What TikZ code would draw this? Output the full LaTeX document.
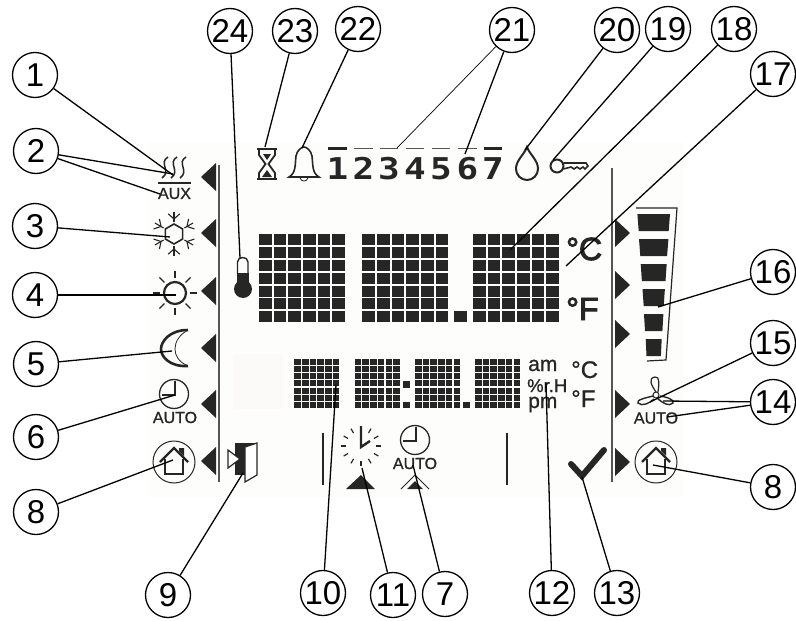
\documentclass[tikz,border=0pt]{standalone}
\usepackage{graphicx}
\usepackage{fontspec}
\setmainfont{Liberation Sans}
\newfontfamily\lcdfont{DejaVu Sans Mono}
\newfontfamily\lcdreg{Liberation Sans}[FakeBold=1]
\newfontfamily\lcdbig{Liberation Sans}[FakeBold=3]
\usepackage{tikz}
\usetikzlibrary{calc}
\definecolor{lcd}{HTML}{262626}
\definecolor{rule}{HTML}{555555}
\definecolor{ghost}{HTML}{FBFAF8}
\newcommand{\dotblock}[6]{
	\foreach \i in {0,...,5}{
		\foreach \j in {0,...,6}{
			\fill[lcd] ({#1+\i*#5},{#2+\j*#6}) rectangle +(#3,#4);
		}
	}
}
\newcommand{\homeicon}[2]{
	\begin{scope}[shift={(#1,#2)}]
		\draw[line width=1pt,lcd] (0,0) circle (21);
		\draw[line width=2.4pt,lcd] (-14,0) -- (0,-14) -- (14,0);
		\draw[line width=2.4pt,lcd] (-9,-3) -- (-9,12) -- (9,12) -- (9,-3);
		\fill[lcd] (5,-14) -- (10,-14) -- (10,-6) -- (5,-11) -- cycle;
	\end{scope}
}
\newcommand{\clockicon}[2]{
	\begin{scope}[shift={(#1,#2)}]
		\draw[line width=1.3pt,lcd] (0,0) circle (14.5);
		\draw[line width=2.6pt,lcd] (1,-13) -- (1,1) -- (-12,1);
	\end{scope}
}
\begin{document}
\begin{tikzpicture}[x=1pt,y=-1pt, line cap=butt,
	callout/.style={circle, draw, line width=1.3pt, inner sep=0pt, minimum size=45pt, font=\fontsize{33}{33}\selectfont},
	leader/.style={line width=1.3pt},
	thinleader/.style={line width=0.7pt},
	autotext/.style={inner sep=0pt, text=lcd, font=\lcdreg\fontsize{16}{16}\selectfont},
	lcdtext/.style={inner sep=0pt, anchor=base west, text=lcd, font=\lcdreg\fontsize{#1}{#1}\selectfont},
	bigunit/.style={inner sep=0pt, anchor=base west, text=lcd, font=\lcdbig\fontsize{32}{32}\selectfont},
	daydigit/.style={inner sep=0pt, anchor=base, text=lcd, font=\lcdfont\bfseries\fontsize{30}{30}\selectfont},
	softkey/.style={fill=lcd, draw=none}]
	\useasboundingbox (0,0) rectangle (796,621);
	\fill[white] (0,0) rectangle (796,621);
	\fill[ghost!40] (148,142) rectangle (683,497);
	\fill[ghost] (233,354) rectangle (283,409);

	\draw[rule,line width=2pt] (218.5,165) -- (218.5,482);
	\draw[rule,line width=1.6pt] (612,168) -- (612,482);
	\draw[lcd,line width=1.6pt] (322.7,433) -- (322.7,485);
	\draw[lcd,line width=1.6pt] (507,433) -- (507,485);
	\foreach \y in {177,233,291,348,404,461}{
		\fill[softkey] (201,\y) -- (216,\y-14) -- (216,\y+14) -- cycle;
	}
	\foreach \y in {233,285,334,404,462}{
		\fill[softkey] (630,\y) -- (615,\y-14) -- (615,\y+14) -- cycle;
	}

	\dotblock{259}{234.3}{12.7}{11}{14.66}{12.8}
	\dotblock{362.3}{234.3}{12.7}{11}{14.66}{12.8}
	\dotblock{473}{234.3}{12.7}{11}{14.66}{12.8}
	\fill[lcd] (454,311.3) rectangle (467.3,322);
	\dotblock{294.3}{359}{6.5}{5.9}{7.7}{7.15}
	\dotblock{354.7}{359}{6.5}{5.9}{7.7}{7.15}
	\dotblock{415}{359}{6.5}{5.9}{7.7}{7.15}
	\dotblock{475}{359}{6.5}{5.9}{7.7}{7.15}
	\fill[lcd] (403.3,381) rectangle (410,387.7);
	\fill[lcd] (403.3,402) rectangle (410,408);
	\fill[lcd] (463.3,402) rectangle (470,408);

	\draw[lcd,line width=1.2pt] (636,208) -- (677,208) -- (666,360) -- (647,361);
	\foreach \y/\a/\b in {214/16.3/15,239/14.7/13.4,264/13/11.8,289/11.2/10,314/9.7/8.7,339/8/7.2}{
		\fill[lcd] (653.7-\a,\y) -- (653.7+\a,\y) -- (653.7+\b,\y+17) -- (653.7-\b,\y+17) -- cycle;
	}

	\foreach \x in {165,174,183}{
		\draw[lcd,line width=1.5pt] (\x+3,157) .. controls (\x-7,163) and (\x+7,171) .. (\x-3,178);
	}
	\draw[lcd,line width=2pt] (158,183) -- (191,183);
	\node (auxtext) at (174.5,193.5) [autotext] {AUX};
	\begin{scope}[shift={(174,234)}]
		\draw[lcd,line width=1.6pt] (30:10) -- (90:10) -- (150:10) -- (210:10) -- (270:10) -- (330:10) -- cycle;
		\foreach \a in {30,90,...,330}{
			\draw[lcd,line width=1.1pt] (\a:12) -- (\a:22);
			\draw[lcd,line width=1.1pt] ($(\a+16:21)$) -- (\a:15) -- ($(\a-16:21)$);
		}
	\end{scope}
	\begin{scope}[shift={(175,293)}]
		\draw[lcd,line width=2.2pt] (0,0) circle (11);
		\foreach \a in {0,45,...,315}{
			\draw[lcd,line width=1.1pt] (\a:15) -- (\a:22);
		}
	\end{scope}
	\draw[lcd,line width=2.6pt] (188,330) .. controls (169,330) and (161,342) .. (161,349) .. controls (161,357) and (170,367) .. (188,366);
	\draw[lcd,line width=0.8pt] (188,330) .. controls (179,335) and (175,342) .. (175,349) .. controls (175,356) and (179,362) .. (188,366);
	\clockicon{174}{394}
	\node (autoleft) at (175,417.5) [autotext] {AUTO};
	\homeicon{174}{462}

	\fill[lcd] (235,443) rectangle (257,447);
	\fill[lcd] (235,443) rectangle (245,475);
	\draw[lcd,fill=white,line width=1.2pt] (245,447) -- (257,443) -- (257,475) -- (245,482) -- cycle;
	\draw[lcd,fill=white,line width=1.2pt] (228,450) -- (240,459) -- (228,468) -- cycle;

	\draw[lcd,line width=2.2pt] (257,149) -- (277,149);
	\draw[lcd,line width=2.2pt] (257,179) -- (277,179);
	\draw[lcd,line width=1.8pt] (259,150) -- (259,155) -- (265.5,164) -- (259,173) -- (259,178);
	\draw[lcd,line width=1.8pt] (275,150) -- (275,155) -- (268.5,164) -- (275,173) -- (275,178);
	\fill[lcd] (263,154) -- (271,154) -- (267,160) -- cycle;
	\fill[lcd] (262,177) -- (272,177) -- (267,170) -- cycle;
	\draw[lcd,line width=1.6pt] (289,177) .. controls (296,173) and (295,165) .. (296,156) .. controls (297,150) and (302,147) .. (304,147) .. controls (306,147) and (311,150) .. (312,156) .. controls (313,165) and (312,173) .. (319,177) -- cycle;
	\draw[lcd,line width=0.8pt] (300,178) .. controls (301,182) and (307,182) .. (308,178);
	\foreach \x/\d in {337.5/1,363.5/2,389/3,415/4,441/5,467.5/6,493/7}{
		\node (day\d) at (\x,179) [daydigit] {\scalebox{1.2}[1]{\d}};
	}
	\fill[lcd] (328,147) rectangle (347,150);
	\fill[lcd] (484,147) rectangle (502,150);
	\foreach \a/\b in {354/373,380/398,406/424,432/450,458/477}{
		\fill[rule] (\a,147.5) rectangle (\b,149);
	}
	\draw[lcd,line width=2pt] (527,147) .. controls (530,155) and (538,160) .. (538,169) .. controls (538,175) and (533,180) .. (527,180) .. controls (521,180) and (516,175) .. (516,169) .. controls (516,160) and (524,155) .. (527,147) -- cycle;
	\draw[lcd,line width=2pt] (557,166) circle (6.5);
	\draw[lcd,line width=1.6pt] (563.5,163) -- (586,163) -- (588,166) -- (585,169) -- (583,167) -- (580,169) -- (577,167) -- (574,169) -- (571,167) -- (563.5,169);

	\draw[lcd,line width=1.4pt] (237.5,274) -- (237.5,262) .. controls (237.5,256) and (248,256) .. (248,262) -- (248,274);
	\fill[lcd] (243,289) circle (9);
	\fill[lcd] (237,273) rectangle (248.5,284);

	\node (degc) at (566,260) [bigunit] {°C};
	\node (degf) at (566,320) [bigunit] {°F};
	\node (amtext) at (528,371) [lcdtext=21] {am};
	\node (rhtext) at (527,392) [lcdtext=18.5] {\%r.H};
	\node (pmtext) at (528,408) [lcdtext=21] {pm};
	\node (degcsm) at (571,378) [lcdtext=24] {°C};
	\node (degfsm) at (571,407) [lcdtext=24] {°F};

	\begin{scope}[shift={(361,446)}]
		\foreach \a in {30,60,...,330}{
			\draw[lcd,line width=1.2pt] (\a-90:15) -- (\a-90:20);
		}
		\draw[lcd,line width=2.4pt] (0,-20) -- (0,1) -- (9,-5);
	\end{scope}
	\fill[lcd] (346,489) -- (375,489) -- (361,475) -- cycle;
	\clockicon{415}{440}
	\node (autobot) at (415,463.5) [autotext] {AUTO};
	\draw[lcd,line width=1pt] (401,489) -- (415,475) -- (429,489);
	\fill[lcd] (407,489) -- (423,489) -- (415,481) -- cycle;

	\draw[lcd,line width=6pt,line cap=round] (571,464) -- (582,476) -- (604,450);

	\draw[lcd,line width=1.2pt] (656,392) .. controls (651,385) and (648,378) .. (655,377) .. controls (660,376) and (659,385) .. (658,392);
	\draw[lcd,line width=1.4pt] (653,396) .. controls (645,398) and (636,400) .. (638,403) .. controls (642,407) and (650,403) .. (654,399);
	\draw[lcd,line width=1.4pt] (660,396) .. controls (667,397) and (675,400) .. (673,403) .. controls (669,407) and (663,403) .. (658,399);
	\draw[lcd,line width=1pt] (656,395) circle (3);
	\node (autoright) at (656,418) [autotext] {AUTO};
	\homeicon{656}{462}

	\node (c1) at (35,75) [callout] {1};
	\node (c2) at (36,151) [callout] {2};
	\node (c3) at (35,226) [callout] {3};
	\node (c4) at (35,295) [callout] {4};
	\node (c5) at (36,364) [callout] {5};
	\node (c6) at (36,437) [callout] {6};
	\node (c8l) at (36,512) [callout] {8};
	\node (c9) at (168,595) [callout] {9};
	\node (c10) at (323,593) [callout] {10};
	\node (c11) at (393,595) [callout] {11};
	\node (c7) at (445,594) [callout] {7};
	\node (c12) at (552,593) [callout] {12};
	\node (c13) at (617,593) [callout] {13};
	\node (c8r) at (773,487) [callout] {8};
	\node (c14) at (773,402) [callout] {14};
	\node (c15) at (773,343) [callout] {15};
	\node (c16) at (773,272) [callout] {16};
	\node (c17) at (773,74) [callout] {17};
	\node (c18) at (734,29) [callout] {18};
	\node (c19) at (668,29) [callout] {19};
	\node (c20) at (617,30) [callout] {20};
	\node (c21) at (512,30) [callout] {21};
	\node (c22) at (358,29) [callout] {22};
	\node (c23) at (295,31) [callout] {23};
	\node (c24) at (230,31) [callout] {24};

	\coordinate (t1) at (173,175);
	\coordinate (t2a) at (173,174);
	\coordinate (t2b) at (160,194);
	\coordinate (t3) at (170,237);
	\coordinate (t4) at (176,295);
	\coordinate (t5) at (172,351);
	\coordinate (t6) at (175,395);
	\coordinate (t8l) at (173,460);
	\coordinate (t9) at (243,473);
	\coordinate (t10) at (336,385);
	\coordinate (t11) at (362,468);
	\coordinate (t7) at (413,465);
	\coordinate (t12) at (546,383);
	\coordinate (t13) at (582,477);
	\coordinate (t8r) at (653,465);
	\coordinate (t14a) at (663,401);
	\coordinate (t14b) at (667,417);
	\coordinate (t15) at (650,402);
	\coordinate (t16) at (658,307);
	\coordinate (t17) at (566,266);
	\coordinate (t18) at (510,250);
	\coordinate (t19) at (553,160);
	\coordinate (t20) at (525,150);
	\coordinate (t21a) at (397,148);
	\coordinate (t21b) at (465,154);
	\coordinate (t22) at (302,148);
	\coordinate (t23) at (265,147);
	\coordinate (t24) at (240,258);

	\draw[leader] (c1) -- (t1);
	\draw[leader] (c2) -- (t2a);
	\draw[leader] (c2) -- (t2b);
	\draw[leader] (c3) -- (t3);
	\draw[leader] (c4) -- (t4);
	\draw[leader] (c5) -- (t5);
	\draw[leader] (c6) -- (t6);
	\draw[leader] (c8l) -- (t8l);
	\draw[leader] (c9) -- (t9);
	\draw[leader] (c10) -- (t10);
	\draw[leader] (c11) -- (t11);
	\draw[leader] (c7) -- (t7);
	\draw[leader] (c12) -- (t12);
	\draw[leader] (c13) -- (t13);
	\draw[leader] (c8r) -- (t8r);
	\draw[leader] (c14) -- (t14a);
	\draw[leader] (c14) -- (t14b);
	\draw[leader] (c15) -- (t15);
	\draw[leader] (c16) -- (t16);
	\draw[leader] (c17) -- (t17);
	\draw[leader] (c18) -- (t18);
	\draw[leader] (c19) -- (t19);
	\draw[leader] (c20) -- (t20);
	\draw[thinleader] (c21) -- (t21a);
	\draw[leader] (c21) -- (t21b);
	\draw[leader] (c22) -- (t22);
	\draw[leader] (c23) -- (t23);
	\draw[leader] (c24) -- (t24);
\end{tikzpicture}
\end{document}
